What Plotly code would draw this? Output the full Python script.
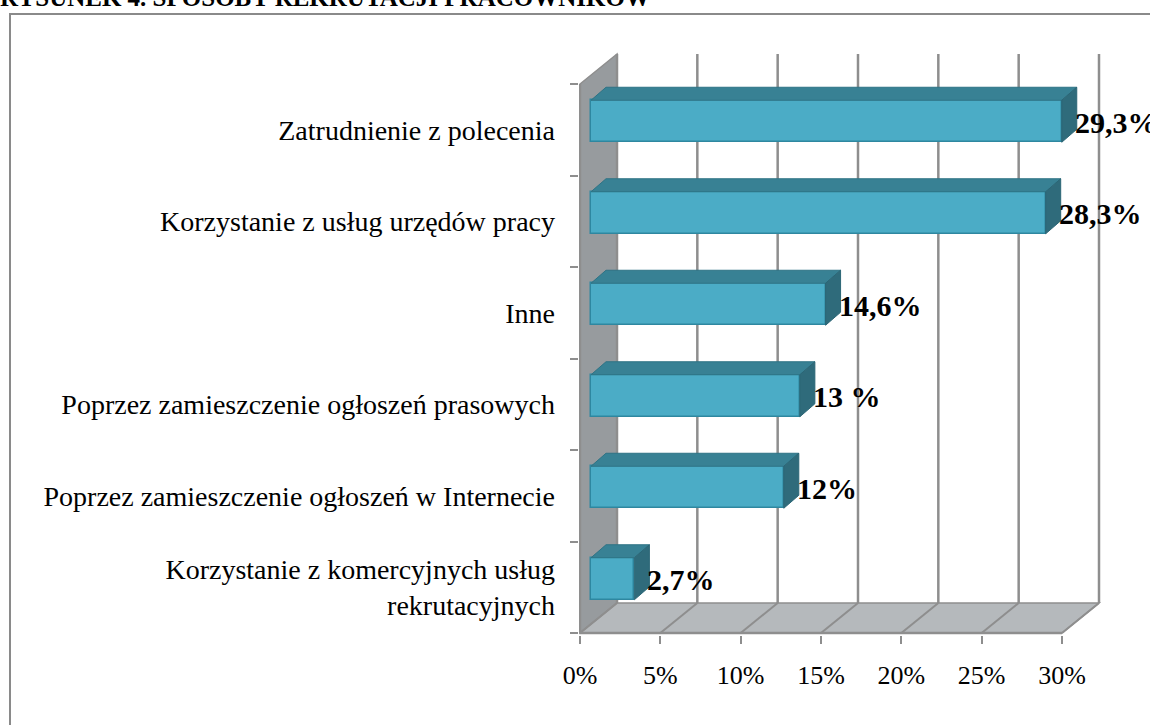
import plotly.graph_objects as go

# ---------------- data ----------------
categories = [
    "Korzystanie z komercyjnych usług<br>rekrutacyjnych",
    "Poprzez zamieszczenie ogłoszeń w Internecie",
    "Poprzez zamieszczenie ogłoszeń prasowych",
    "Inne",
    "Korzystanie z usług urzędów pracy",
    "Zatrudnienie z polecenia",
]
values = [2.7, 12.0, 13.0, 14.6, 28.3, 29.3]
value_labels = ["2,7%", "12%", "13 %", "14,6%", "28,3%", "29,3%"]
x_ticks = [0, 5, 10, 15, 20, 25, 30]
x_ticklabels = ["0%", "5%", "10%", "15%", "20%", "25%", "30%"]
title_text = "RYSUNEK 4. SPOSOBY REKRUTACJI PRACOWNIKÓW"

# ---------------- geometry (pixels) ----------------
W, H = 1150, 725
X0PX, X30PX = 580, 1062          # front plane 0% and 30%
YBOT, YTOP = 633, 84             # front plane bottom / top
DXPX, DYPX = 37, 30              # depth of the 3-D box
BAR_OFF_X, BAR_OFF_Y = 11, 8.5   # bar front face offset into depth
BAR_H = 42                        # bar front face height
BAR_DX, BAR_DY = 15, 13          # bar depth (top / side faces)
PL, PR, PT, PB = 579, 1104, 50, 635

kx = (X30PX - X0PX) / 30.0
ky = (YBOT - YTOP) / len(categories)

def dx(p):  # pixel distance -> x data
    return p / kx

def dy(p):  # pixel distance -> y data
    return p / ky

xr = [dx(PL - X0PX), dx(PR - X0PX)]
yr = [-0.5 + dy(YBOT - PB), -0.5 + dy(YBOT - PT)]
ymin, ymax = -0.5, len(categories) - 0.5
xmax = x_ticks[-1]
DX, DY = dx(DXPX), dy(DYPX)

def paper_x(px):
    return (px - PL) / (PR - PL)

def paper_y(py):
    return (PB - py) / (PB - PT)

positions = list(range(len(categories)))

WALL = "#979B9E"
FLOOR = "#B5B9BC"
GRID = "#8E8E8E"
FRONT = "#4BACC6"
TOP = "#388194"
SIDE = "#2F6B7B"
EDGE = "#2E87A0"
FONT = "Liberation Serif"

shapes = []
# back wall (left side)
shapes.append(dict(type="path", xref="x", yref="y", layer="below",
                   path=f"M 0 {ymin} L 0 {ymax} L {DX} {ymax+DY} L {DX} {ymin+DY} Z",
                   fillcolor=WALL, line=dict(color=GRID, width=1.5)))
# floor
shapes.append(dict(type="path", xref="x", yref="y", layer="below",
                   path=f"M 0 {ymin} L {xmax} {ymin} L {xmax+DX} {ymin+DY} L {DX} {ymin+DY} Z",
                   fillcolor=FLOOR, line=dict(color=GRID, width=1.5)))
# gridlines
for t in x_ticks:
    shapes.append(dict(type="line", xref="x", yref="y", layer="below",
                       x0=t + DX, x1=t + DX, y0=ymin + DY, y1=ymax + DY,
                       line=dict(color=GRID, width=2.5)))
    shapes.append(dict(type="line", xref="x", yref="y", layer="below",
                       x0=t, x1=t + DX, y0=ymin, y1=ymin + DY,
                       line=dict(color=GRID, width=2)))
# front edges
shapes.append(dict(type="line", xref="x", yref="y", layer="below",
                   x0=0, x1=xmax, y0=ymin, y1=ymin, line=dict(color=GRID, width=2.5)))
shapes.append(dict(type="line", xref="x", yref="y", layer="below",
                   x0=0, x1=0, y0=ymin, y1=ymax, line=dict(color=GRID, width=2.5)))

# bar faces
bx0 = dx(BAR_OFF_X)
boy = dy(BAR_OFF_Y)
bw = dy(BAR_H)
bdx, bdy = dx(BAR_DX), dy(BAR_DY)
bar_y = [p + boy for p in positions]
for yc, v in zip(bar_y, values):
    yt, yb = yc + bw / 2, yc - bw / 2
    x1 = bx0 + v
    shapes.append(dict(type="path", xref="x", yref="y", layer="above",
                       path=f"M {bx0} {yt} L {x1} {yt} L {x1+bdx} {yt+bdy} L {bx0+bdx} {yt+bdy} Z",
                       fillcolor=TOP, line=dict(color="#2E7385", width=1)))
    shapes.append(dict(type="path", xref="x", yref="y", layer="above",
                       path=f"M {x1} {yb} L {x1} {yt} L {x1+bdx} {yt+bdy} L {x1+bdx} {yb+bdy} Z",
                       fillcolor=SIDE, line=dict(color="#2B6676", width=1)))

# outer frame
shapes.append(dict(type="rect", xref="paper", yref="paper",
                   x0=paper_x(10), x1=paper_x(1170), y0=paper_y(14), y1=paper_y(745),
                   line=dict(color="#8A8A8A", width=2), fillcolor="rgba(0,0,0,0)", layer="below"))

fig = go.Figure()
fig.add_trace(go.Bar(
    orientation="h",
    y=bar_y,
    x=values,
    base=[bx0] * len(values),
    width=bw,
    marker=dict(color=FRONT, line=dict(color=EDGE, width=1.5)),
    hoverinfo="skip",
    showlegend=False,
))

annotations = []
for yc, v, lab in zip(bar_y, values, value_labels):
    annotations.append(dict(x=bx0 + v + bdx, y=yc, xref="x", yref="y",
                            text=f"<b>{lab}</b>", showarrow=False,
                            xanchor="left", yanchor="middle", xshift=-4, yshift=-1,
                            font=dict(family=FONT, size=30, color="black")))
annotations.append(dict(x=paper_x(0), y=paper_y(-3), xref="paper", yref="paper",
                        text=f"<b>{title_text}</b>", showarrow=False,
                        xanchor="left", yanchor="middle", xshift=-2,
                        font=dict(family=FONT, size=25, color="black")))

fig.update_layout(
    width=W, height=H,
    margin=dict(l=PL, r=W - PR, t=PT, b=H - PB, pad=0),
    paper_bgcolor="white", plot_bgcolor="rgba(0,0,0,0)",
    shapes=shapes, annotations=annotations,
    xaxis=dict(range=xr, tickvals=x_ticks, ticktext=x_ticklabels,
               ticks="outside", ticklen=8, tickwidth=2, tickcolor=GRID,
               showgrid=False, zeroline=False, showline=False,
               ticklabelstandoff=9,
               tickfont=dict(family=FONT, size=26, color="black")),
    yaxis=dict(range=yr, tickvals=positions, ticktext=categories,
               ticks="", showgrid=False, zeroline=False, showline=False,
               ticklabelstandoff=23,
               tickfont=dict(family=FONT, size=28, color="black"),
               minor=dict(tickvals=[p - 0.5 for p in positions] + [ymax],
                          ticks="outside", ticklen=8, tickwidth=2,
                          tickcolor=GRID, showgrid=False)),
    bargap=0,
)

fig.write_html(
    "out.html",
    config={"displayModeBar": False},
    post_script="document.body.style.margin='0';document.body.style.padding='0';"
                "document.body.style.overflow='hidden';"
                "document.documentElement.style.overflow='hidden';",
)
